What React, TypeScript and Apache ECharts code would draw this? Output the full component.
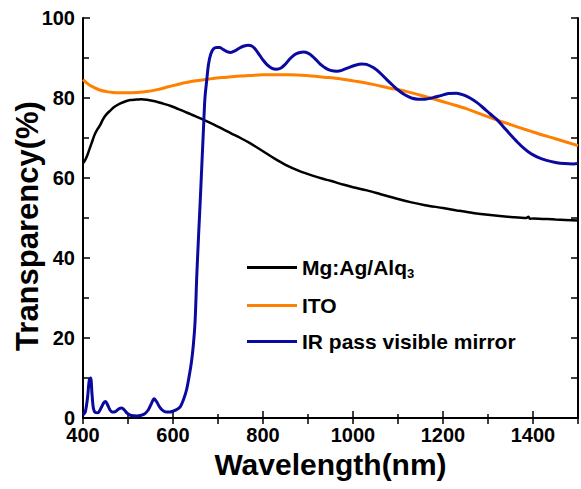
import React, { useEffect, useRef } from "react";
import * as echarts from "echarts";

const seriesNames = ["Mg:Ag/Alq3", "ITO", "IR pass visible mirror"];
const xTickLabels = ["400", "600", "800", "1000", "1200", "1400"];
const yTickLabels = ["0", "20", "40", "60", "80", "100"];
const yTitle = "Transparency(%)";

const wlBlack = [400, 405, 410, 415, 420, 425, 430, 438, 445, 452, 460, 470, 482, 495, 505, 519, 530, 545, 560, 578, 595, 615, 640, 667, 690, 711, 730, 750, 771, 800, 825, 850, 880, 910, 933, 950, 980, 1000, 1031, 1060, 1098, 1130, 1160, 1200, 1231, 1270, 1300, 1356, 1385, 1390, 1393, 1400, 1450, 1500];
const tBlack = [63.7, 64.5, 65.8, 67.4, 69, 70.6, 71.8, 73.2, 74.8, 75.9, 76.8, 77.8, 78.6, 79.2, 79.5, 79.6, 79.7, 79.5, 79.2, 78.6, 78, 77.1, 75.9, 74.6, 73.4, 72.2, 71.1, 70, 68.7, 66.7, 64.9, 63.3, 61.8, 60.6, 59.8, 59.3, 58.3, 57.7, 56.9, 56, 54.8, 53.9, 53.2, 52.5, 51.9, 51.2, 50.8, 50.2, 50, 50.3, 49.8, 49.9, 49.6, 49.4];

const wlOrange = [400, 410, 423, 437, 452, 475, 497, 520, 541, 565, 590, 615, 640, 665, 689, 720, 750, 771, 800, 822, 860, 897, 935, 971, 1010, 1044, 1080, 1104, 1120, 1150, 1178, 1215, 1253, 1290, 1327, 1365, 1400, 1450, 1500];
const tOrange = [84.6, 83.6, 82.7, 82, 81.6, 81.3, 81.3, 81.4, 81.6, 82.1, 82.8, 83.5, 84.1, 84.5, 84.9, 85.2, 85.5, 85.6, 85.8, 85.8, 85.8, 85.6, 85.2, 84.8, 84.1, 83.4, 82.5, 82, 81.6, 80.7, 79.8, 78.6, 77.3, 75.7, 74.2, 72.8, 71.5, 69.8, 68.1];

const wlBlue = [400, 405, 410, 414, 417, 420, 423, 427, 433, 440, 446, 450, 455, 460, 465, 472, 480, 486, 492, 498, 505, 520, 535, 545, 552, 558, 564, 570, 577, 585, 593, 600, 608, 616, 623, 630, 636, 641, 645, 649, 653, 657, 660, 664, 668, 671, 675, 679, 684, 690, 697, 704, 712, 720, 728, 738, 748, 758, 767, 775, 783, 792, 800, 810, 820, 830, 840, 850, 860, 870, 880, 890, 900, 910, 920, 930, 940, 950, 964, 975, 990, 1005, 1020, 1030, 1045, 1060, 1075, 1090, 1100, 1115, 1130, 1145, 1160, 1178, 1195, 1212, 1230, 1245, 1260, 1275, 1290, 1305, 1320, 1335, 1350, 1365, 1380, 1395, 1410, 1430, 1450, 1470, 1490, 1500];
const tBlue = [0.8, 1.5, 5, 9.5, 10, 6, 2.5, 1.4, 1.3, 2.5, 3.8, 4.1, 3.2, 2, 1.5, 1.6, 2.3, 2.5, 2, 1.2, 0.7, 0.5, 0.9, 2, 3.6, 4.8, 4, 2.8, 1.9, 1.5, 1.5, 1.7, 2.1, 2.8, 4.5, 7, 10.5, 14, 18, 24, 36, 46, 53, 63, 73, 80, 84.5, 88.5, 91, 92.3, 92.6, 92.6, 92.1, 91.6, 91.4, 91.8, 92.5, 93, 93.2, 93, 92.2, 90.8, 89.5, 88.2, 87.4, 87.2, 87.5, 88.5, 89.8, 90.8, 91.3, 91.5, 91.2, 90.4, 89.3, 88.2, 87.4, 86.9, 86.7, 86.9, 87.6, 88.2, 88.5, 88.4, 87.6, 86.3, 84.6, 83, 82, 80.8, 80, 79.7, 79.7, 80.1, 80.6, 81.1, 81.2, 80.8, 80, 78.9, 77.5, 76, 74.6, 72.7, 70.8, 69, 67.4, 66.1, 65.2, 64.4, 63.9, 63.6, 63.5, 63.6];

const colors = ["#000000", "#FF8000", "#0A0AA0"];

const zip = (xs: number[], ys: number[]) => xs.map((x, i) => [x, ys[i]]);

const FONT = "'Liberation Sans', Arial, Helvetica, sans-serif";

export default function App() {
  const ref = useRef<HTMLDivElement>(null);
  useEffect(() => {
    if (!ref.current) return;
    const chart = echarts.init(ref.current, undefined, { renderer: "svg" });
    const axisLine = { show: true, lineStyle: { color: "#000", width: 2 } };
    chart.setOption({
      animation: false,
      backgroundColor: "#fff",
      textStyle: { fontFamily: FONT },
      grid: { left: 83, right: 3, top: 18, bottom: 71, containLabel: false, outerBoundsMode: "none" },
      graphic: [
        {
          type: "text",
          x: 27,
          y: 226,
          rotation: Math.PI / 2,
          silent: true,
          style: {
            text: yTitle,
            fontFamily: FONT,
            fontSize: 31,
            fontWeight: "bold",
            fill: "#000",
            align: "center",
            verticalAlign: "middle",
          },
        },
      ],
      legend: {
        orient: "vertical",
        left: 247,
        top: 257,
        padding: 0,
        itemGap: 15,
        itemWidth: 50,
        itemHeight: 3,
        icon: "rect",
        data: seriesNames,
        formatter: (name: string) => (name === "Mg:Ag/Alq3" ? "Mg:Ag/Alq{sub|3}" : name),
        textStyle: {
          fontFamily: FONT,
          fontSize: 21,
          fontWeight: "bold",
          color: "#000",
          lineHeight: 21,
          rich: {
            sub: { fontFamily: FONT, fontSize: 13, fontWeight: "bold", color: "#000", padding: [12, 0, 0, 0] },
          },
        },
      },
      xAxis: [
        {
          type: "value",
          min: 400,
          max: 1500,
          interval: 200,
          position: "bottom",
          axisLine,
          axisTick: { inside: true, length: 7, lineStyle: { color: "#000", width: 1.5 } },
          minorTick: { show: true, splitNumber: 2, length: 4, lineStyle: { color: "#000", width: 1.5 } },
          splitLine: { show: false },
          axisLabel: {
            fontFamily: FONT,
            fontSize: 20,
            fontWeight: "bold",
            color: "#000",
            margin: 7,
            formatter: (v: number) => (xTickLabels.includes(String(v)) ? String(v) : ""),
          },
          name: "Wavelength(nm)",
          nameLocation: "middle",
          nameGap: 30,
          nameTextStyle: { fontFamily: FONT, fontSize: 30, fontWeight: "bold", color: "#000" },
        },
        {
          type: "value",
          min: 400,
          max: 1500,
          interval: 100,
          position: "top",
          axisLine,
          axisTick: { inside: true, length: 6, lineStyle: { color: "#000", width: 1.5 } },
          axisLabel: { show: false },
          splitLine: { show: false },
        },
      ],
      yAxis: [
        {
          type: "value",
          min: 0,
          max: 100,
          interval: 20,
          position: "left",
          axisLine,
          axisTick: { inside: true, length: 7, lineStyle: { color: "#000", width: 1.5 } },
          minorTick: { show: true, splitNumber: 2, length: 6, lineStyle: { color: "#000", width: 1.5 } },
          splitLine: { show: false },
          axisLabel: {
            fontFamily: FONT,
            fontSize: 20,
            fontWeight: "bold",
            color: "#000",
            margin: 8,
            formatter: (v: number) => (yTickLabels.includes(String(v)) ? String(v) : ""),
          },
        },
        {
          type: "value",
          min: 0,
          max: 100,
          interval: 10,
          position: "right",
          axisLine,
          axisTick: { inside: true, length: 7, lineStyle: { color: "#000", width: 1.5 } },
          axisLabel: { show: false },
          splitLine: { show: false },
        },
      ],
      series: [
        {
          name: seriesNames[0],
          type: "line",
          data: zip(wlBlack, tBlack),
          showSymbol: false,
          smooth: 0.3,
          lineStyle: { color: colors[0], width: 2.5 },
          itemStyle: { color: colors[0] },
        },
        {
          name: seriesNames[1],
          type: "line",
          data: zip(wlOrange, tOrange),
          showSymbol: false,
          smooth: 0.3,
          lineStyle: { color: colors[1], width: 3 },
          itemStyle: { color: colors[1] },
        },
        {
          name: seriesNames[2],
          type: "line",
          data: zip(wlBlue, tBlue),
          showSymbol: false,
          smooth: 0.3,
          lineStyle: { color: colors[2], width: 3 },
          itemStyle: { color: colors[2] },
        },
      ],
    });
    return () => chart.dispose();
  }, []);
  return <div ref={ref} style={{ width: 581, height: 489, position: "absolute", left: 0, top: 0 }} />;
}
